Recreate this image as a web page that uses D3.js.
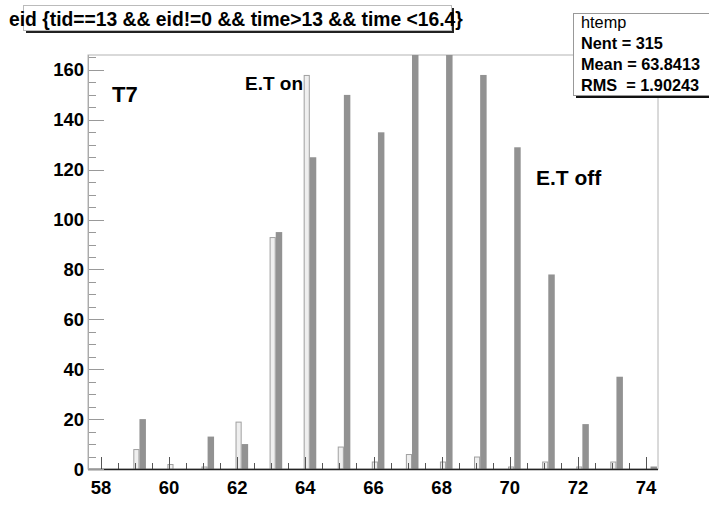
<!DOCTYPE html>
<html>
<head>
<meta charset="utf-8">
<script src="https://cdn.jsdelivr.net/npm/d3@7"></script>
<style>
  html, body { margin: 0; padding: 0; background: #fff; }
  svg { display: block; font-family: "Liberation Sans", Arial, Helvetica, sans-serif; }
  text { white-space: pre; }
</style>
</head>
<body>
<svg id="chart" width="709" height="519"></svg>
<script>
// eid bins and the two overlaid count histograms
const eidValues  = [59, 60, 61, 62, 63, 64, 65, 66, 67, 68, 69, 70, 71, 72, 73, 74];
const onCounts   = [8, 2, 1, 19, 93, 158, 9, 3, 6, 3, 5, 1, 3, 1, 3, 0];
const offCounts  = [20, 0, 13, 10, 95, 125, 150, 135, 190, 185, 158, 129, 78, 18, 37, 1];

const xMajorTicks = [58, 60, 62, 64, 66, 68, 70, 72, 74];
const yMajorTicks = [0, 20, 40, 60, 80, 100, 120, 140, 160];

const titleText = "eid {tid==13 && eid!=0 && time>13 && time <16.4}";
const statsLines = ["htemp", "Nent = 315", "Mean = 63.8413", "RMS  = 1.90243"];

const svg = d3.select("#chart");
const frame = { left: 88, right: 658, top: 55, bottom: 469 };

const x = d3.scaleLinear().domain([57.62, 74.35]).range([frame.left, frame.right]);
const y = d3.scaleLinear().domain([0, 166]).range([frame.bottom, frame.top]);

// frame
svg.append("rect")
  .attr("x", frame.left).attr("y", frame.top)
  .attr("width", frame.right - frame.left).attr("height", frame.bottom - frame.top)
  .attr("fill", "#fff").attr("stroke", "#b4b4b4").attr("stroke-width", 1);

svg.append("clipPath").attr("id", "plotClip")
  .append("rect")
  .attr("x", frame.left).attr("y", frame.top)
  .attr("width", frame.right - frame.left).attr("height", frame.bottom - frame.top);

const plot = svg.append("g").attr("clip-path", "url(#plotClip)");

// light histogram (outlined bars)
plot.selectAll("rect.on")
  .data(eidValues.map((v, i) => ({ v, c: onCounts[i] })).filter(d => d.c > 0))
  .join("rect").attr("class", "on")
  .attr("x", d => x(d.v - 0.05) + 0.5)
  .attr("width", d => x(d.v + 0.13) - x(d.v - 0.05) - 1)
  .attr("y", d => y(d.c) + 0.5)
  .attr("height", d => y(0) - y(d.c) - 0.5)
  .attr("fill", "#efefef").attr("stroke", "#a0a0a0").attr("stroke-width", 1);

// dark histogram (filled bars)
plot.selectAll("rect.off")
  .data(eidValues.map((v, i) => ({ v, c: offCounts[i] })).filter(d => d.c > 0))
  .join("rect").attr("class", "off")
  .attr("x", d => x(d.v + 0.13))
  .attr("width", d => x(d.v + 0.32) - x(d.v + 0.13))
  .attr("y", d => y(d.c))
  .attr("height", d => y(0) - y(d.c))
  .attr("fill", "#929292");

// x axis: major ticks every 2, minor every 0.5
const xAxis = svg.append("g");
const xMinor = d3.range(58, 74.01, 0.5).filter(t => xMajorTicks.indexOf(t) < 0);
xAxis.selectAll("line.minor").data(xMinor).join("line")
  .attr("x1", d => Math.round(x(d)) + 0.5).attr("x2", d => Math.round(x(d)) + 0.5)
  .attr("y1", frame.bottom).attr("y2", frame.bottom - 6)
  .attr("stroke", "#555").attr("stroke-width", 1);
xAxis.selectAll("line.major").data(xMajorTicks).join("line")
  .attr("x1", d => Math.round(x(d)) + 0.5).attr("x2", d => Math.round(x(d)) + 0.5)
  .attr("y1", frame.bottom).attr("y2", frame.bottom - 12)
  .attr("stroke", "#555").attr("stroke-width", 1);
xAxis.append("line")
  .attr("x1", frame.left).attr("x2", frame.right)
  .attr("y1", frame.bottom + 0.5).attr("y2", frame.bottom + 0.5)
  .attr("stroke", "#222").attr("stroke-width", 1.5);
xAxis.selectAll("text").data(xMajorTicks).join("text")
  .attr("x", d => x(d)).attr("y", 494)
  .attr("text-anchor", "middle")
  .attr("font-size", 18.5).attr("font-weight", "bold").attr("fill", "#000")
  .text(d => d);

// y axis: major ticks every 20, minor every 5
const yAxis = svg.append("g");
const yMinor = d3.range(0, 166, 5).filter(t => yMajorTicks.indexOf(t) < 0);
yAxis.selectAll("line.minor").data(yMinor).join("line")
  .attr("x1", frame.left).attr("x2", frame.left + 8)
  .attr("y1", d => Math.round(y(d)) + 0.5).attr("y2", d => Math.round(y(d)) + 0.5)
  .attr("stroke", "#999").attr("stroke-width", 1);
yAxis.selectAll("line.major").data(yMajorTicks).join("line")
  .attr("x1", frame.left).attr("x2", frame.left + 16)
  .attr("y1", d => Math.round(y(d)) + 0.5).attr("y2", d => Math.round(y(d)) + 0.5)
  .attr("stroke", "#999").attr("stroke-width", 1);
yAxis.append("line")
  .attr("x1", frame.left + 0.5).attr("x2", frame.left + 0.5)
  .attr("y1", frame.top).attr("y2", frame.bottom)
  .attr("stroke", "#aaa").attr("stroke-width", 1);
yAxis.selectAll("text").data(yMajorTicks).join("text")
  .attr("x", 84).attr("y", d => y(d) + 6.5)
  .attr("text-anchor", "end")
  .attr("font-size", 18.5).attr("font-weight", "bold").attr("fill", "#000")
  .text(d => d);

// in-plot annotations
const notes = [
  { t: "T7", x: 112, y: 102, s: 22 },
  { t: "E.T on", x: 245, y: 90, s: 19 },
  { t: "E.T off", x: 536, y: 185, s: 21 }
];
svg.selectAll("text.note").data(notes).join("text").attr("class", "note")
  .attr("x", d => d.x).attr("y", d => d.y)
  .attr("font-size", d => d.s).attr("font-weight", "bold").attr("fill", "#000")
  .text(d => d.t);

// title box with drop shadow
const tb = { x: 23, y: 5, w: 428, h: 25 };
svg.append("rect").attr("x", tb.x + 3).attr("y", tb.y + 3).attr("width", tb.w).attr("height", tb.h).attr("fill", "#222");
svg.append("rect").attr("x", tb.x + 0.5).attr("y", tb.y + 0.5).attr("width", tb.w).attr("height", tb.h)
  .attr("fill", "#fff").attr("stroke", "#bbb").attr("stroke-width", 1);
svg.append("text").attr("x", 9).attr("y", 26)
  .attr("font-size", 19.3).attr("font-weight", "bold").attr("fill", "#000")
  .text(titleText);

// statistics box
const sb = { x: 573, y: 13, w: 150, h: 82 };
svg.append("rect").attr("x", sb.x + 3).attr("y", sb.y + 3).attr("width", sb.w).attr("height", sb.h).attr("fill", "#111");
svg.append("rect").attr("x", sb.x + 0.5).attr("y", sb.y + 0.5).attr("width", sb.w).attr("height", sb.h)
  .attr("fill", "#fff").attr("stroke", "#999").attr("stroke-width", 1);
svg.selectAll("text.stat").data(statsLines).join("text").attr("class", "stat")
  .attr("x", 581).attr("y", (d, i) => 28 + i * 21)
  .attr("font-size", 16.3)
  .attr("font-weight", (d, i) => i === 0 ? "normal" : "bold")
  .attr("fill", "#000")
  .text(d => d);
</script>
</body>
</html>
